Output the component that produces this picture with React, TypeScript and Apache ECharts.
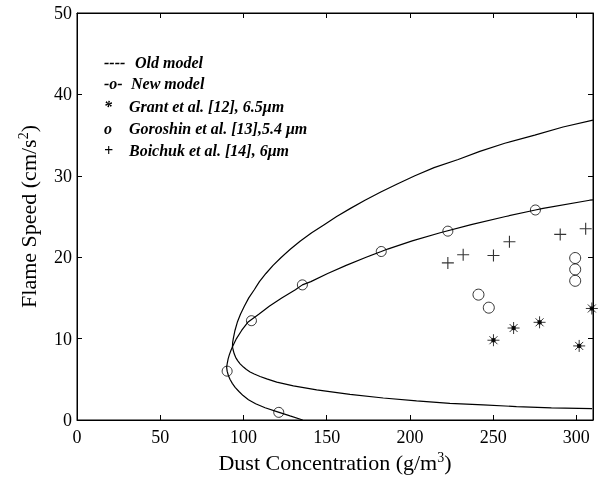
import { useEffect, useRef } from "react";
import * as echarts from "echarts";

// Old model: lower branch (right to left), turning point, then upper branch
const oldModel: [number, number][] = [
  [309.5, 1.4], [285, 1.5], [264, 1.65], [244, 1.85], [224, 2.05], [204, 2.35],
  [184, 2.7], [164, 3.15], [144, 3.7], [130, 4.2], [120, 4.65], [114, 5.05],
  [110, 5.35], [106.5, 5.65], [104, 5.9], [101.8, 6.2], [100, 6.5], [98, 6.9],
  [96.5, 7.3], [95.3, 7.7], [94.5, 8.1], [93.8, 8.6], [93.4, 9.0], [93.5, 9.5],
  [93.9, 10.0], [94.9, 11.0], [96.3, 12.0], [98.2, 13.0], [100.6, 14.0],
  [103.2, 15.0], [106.5, 16.0], [109.6, 17.0], [113.5, 18.0], [117.8, 19.0],
  [122.8, 20.0], [128.3, 21.0], [134.2, 22.0], [141, 23.0], [148.5, 24.0],
  [156, 25.0], [164.3, 26.0], [173, 27.0], [182.5, 28.0], [192.4, 29.0],
  [203, 30.0], [214.5, 31.0], [229, 32.0], [242, 33.0], [257, 34.0],
  [275, 35.0], [292, 36.0], [310, 36.85],
];

// New model curve, same ordering
const newModel: [number, number][] = [
  [135.6, 0], [128, 0.5], [120.5, 1.0], [113, 1.5], [107.3, 2.0], [103, 2.5],
  [99.8, 3.0], [97.3, 3.5], [95, 4.0], [93.3, 4.5], [91.9, 5.0], [90.9, 5.5],
  [90.2, 6.0], [89.9, 6.5], [90.3, 7.0], [90.8, 7.5], [91.5, 8.0], [92.4, 8.5],
  [93.4, 9.0], [95.8, 10.0], [98.9, 11.0], [102.6, 12.0], [109.2, 13.0],
  [115.7, 14.0], [123, 15.0], [131.2, 16.0], [135.4, 16.6], [140.5, 17.0],
  [150.6, 18.0], [161.7, 19.0], [173.7, 20.0], [182.8, 20.7], [186.6, 21.0],
  [201.4, 22.0], [218.2, 23.0], [236.8, 24.0], [257.5, 25.0], [275.4, 25.8],
  [280, 26.0], [308, 27.0], [310, 27.05],
];

// Points marked with circles on the new model curve
const newModelMarkers: [number, number][] = [
  [90.2, 6.0], [104.8, 12.2], [135.4, 16.6], [182.8, 20.7], [222.8, 23.2],
  [275.4, 25.8], [121.2, 0.94],
];

const grant: [number, number][] = [
  [250.2, 9.8], [262.3, 11.3], [277.9, 12.0], [301.7, 9.1], [309.3, 13.7],
];

const goroshin: [number, number][] = [
  [241.2, 15.4], [247.4, 13.8], [299.3, 19.9], [299.3, 18.5], [299.3, 17.1],
];

const boichuk: [number, number][] = [
  [222.8, 19.3], [232.0, 20.3], [250.2, 20.2], [259.8, 21.9], [290.3, 22.8],
  [305.6, 23.5],
];

const legendMarks = ["----", "-o-", "*", "o", "+"];
const legendTexts = [
  "Old model",
  "New model",
  "Grant et al. [12], 6.5\u03bcm",
  "Goroshin et al. [13],5.4 \u03bcm",
  "Boichuk et al. [14], 6\u03bcm",
];

const SERIF = '"Liberation Serif", "Times New Roman", serif';

const asteriskPath =
  "path://M6,0 L6,12 M0,6 L12,6 M2,2 L10,10 M10,2 L2,10 M4.4,4.4 L7.6,4.4 L7.6,7.6 L4.4,7.6 Z";
const plusPath = "path://M0,6 L12,6 M6,0 L6,12";

const X_MAX = 310;
const Y_MAX = 50;

export default function App() {
  const ref = useRef<HTMLDivElement>(null);

  useEffect(() => {
    const chart = echarts.init(ref.current!, null, { renderer: "svg" });

    const rowY = [62, 83, 106, 128, 150];
    const textX = [135, 131, 129, 129, 129];
    const font = {
      fontFamily: SERIF,
      fontSize: 16,
      fontStyle: "italic",
      fontWeight: "bold",
      fill: "#000",
      verticalAlign: "middle",
    };
    const graphic: any[] = [];
    legendTexts.forEach((t, i) => {
      graphic.push({ type: "text", x: 104, y: rowY[i], style: { ...font, text: legendMarks[i] } });
      graphic.push({ type: "text", x: textX[i], y: rowY[i], style: { ...font, text: t } });
    });

    const tick = { show: true, inside: true, length: 5, lineStyle: { color: "#000", width: 1 } };
    const line = { show: true, onZero: false, lineStyle: { color: "#000", width: 1 } };
    const titleStyle = {
      fontFamily: SERIF,
      fontSize: 22,
      color: "#000",
      rich: {
        sup: { fontFamily: SERIF, fontSize: 14, color: "#000", verticalAlign: "top", padding: [0, 0, 10, 0] },
      },
    };

    chart.setOption({
      animation: false,
      grid: { left: 77, top: 13, right: 7, bottom: 62, show: true, borderColor: "#000", borderWidth: 1 },
      xAxis: [
        {
          type: "value",
          min: 0,
          max: X_MAX,
          interval: 50,
          splitLine: { show: false },
          axisLine: line,
          axisTick: tick,
          axisLabel: { showMaxLabel: false, fontFamily: SERIF, fontSize: 18, color: "#000", margin: 8 },
          name: "Dust Concentration (g/m{sup|3})",
          nameLocation: "middle",
          nameGap: 30,
          nameTextStyle: titleStyle,
        },
        {
          type: "value",
          position: "top",
          min: 0,
          max: X_MAX,
          interval: 50,
          splitLine: { show: false },
          axisLine: line,
          axisTick: tick,
          axisLabel: { show: false },
        },
      ],
      yAxis: [
        {
          type: "value",
          min: 0,
          max: Y_MAX,
          interval: 10,
          splitLine: { show: false },
          axisLine: line,
          axisTick: tick,
          axisLabel: { fontFamily: SERIF, fontSize: 18, color: "#000", margin: 5 },
          name: "Flame Speed (cm/s{sup|2})",
          nameLocation: "middle",
          nameGap: 37,
          nameTextStyle: titleStyle,
        },
        {
          type: "value",
          position: "right",
          min: 0,
          max: Y_MAX,
          interval: 10,
          splitLine: { show: false },
          axisLine: line,
          axisTick: tick,
          axisLabel: { show: false },
        },
      ],
      graphic,
      series: [
        {
          name: "Old model",
          type: "line",
          data: oldModel,
          smooth: false,
          showSymbol: false,
          symbol: "none",
          lineStyle: { color: "#000", width: 1.2 },
        },
        {
          name: "New model",
          type: "line",
          data: newModel,
          smooth: false,
          showSymbol: false,
          symbol: "none",
          lineStyle: { color: "#000", width: 1.2 },
        },
        {
          name: "New model points",
          type: "scatter",
          data: newModelMarkers,
          symbol: "circle",
          symbolSize: 10,
          itemStyle: { color: "transparent", borderColor: "#000", borderWidth: 1 },
        },
        {
          name: "Goroshin et al. [13]",
          type: "scatter",
          data: goroshin,
          symbol: "circle",
          symbolSize: 11,
          itemStyle: { color: "transparent", borderColor: "#000", borderWidth: 1 },
        },
        {
          name: "Grant et al. [12]",
          type: "scatter",
          data: grant,
          symbol: asteriskPath,
          symbolSize: 12,
          itemStyle: { color: "#000", borderColor: "#000", borderWidth: 1 },
        },
        {
          name: "Boichuk et al. [14]",
          type: "scatter",
          data: boichuk,
          symbol: plusPath,
          symbolSize: 12,
          itemStyle: { color: "transparent", borderColor: "#000", borderWidth: 1.1 },
        },
      ],
    });

    return () => chart.dispose();
  }, []);

  return <div ref={ref} style={{ position: "fixed", left: 0, top: 0, width: 600, height: 482 }} />;
}
